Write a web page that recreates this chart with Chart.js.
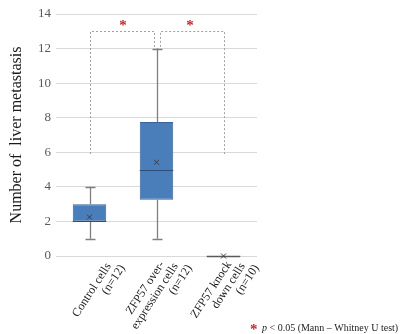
<!DOCTYPE html>
<html>
<head>
<meta charset="utf-8">
<script src="https://cdn.jsdelivr.net/npm/chart.js@4.4.1/dist/chart.umd.min.js"></script>
<style>
  html, body { margin: 0; padding: 0; background: #ffffff; }
  #wrap { width: 400px; height: 334px; }
</style>
</head>
<body>
<div id="wrap"><canvas id="c" width="400" height="334"></canvas></div>
<script>
// Groups (multi-line axis labels)
const categories = [
  ['Control cells', '(n=12)'],
  ['ZFP57 over-', 'expression cells', '(n=12)'],
  ['ZFP57 knock', 'down cells', '(n=10)']
];
// Box-plot summary per group
const whiskerMin = [1, 1, 0];
const quartile1  = [2, 3.25, 0];
const medians    = [2, 5, 0];
const quartile3  = [3, 7.75, 0];
const whiskerMax = [4, 12, 0];
const means      = [2.25, 5.42, 0];
// Y axis ticks
const yTicks = [0, 2, 4, 6, 8, 10, 12, 14];
// Significance brackets: group pairs, leg bottoms and bracket top
const bracketFrom   = [0, 1];
const bracketTo     = [1, 2];
const bracketLowA   = [5.9, 12.1];
const bracketLowB   = [12.1, 5.9];
const bracketTop    = 13;
const starLevel     = 13.5;
const yTitle = 'Number of  liver metastasis';
const footnote = ' < 0.05 (Mann \u2013 Whitney U test)';

const SERIF = '"Liberation Serif", "DejaVu Serif", serif';

const boxPlugin = {
  id: 'boxDetails',
  beforeDatasetsDraw(chart) {
    const ctx = chart.ctx, x = chart.scales.x, y = chart.scales.y;
    ctx.save();
    ctx.strokeStyle = '#7f7f7f';
    ctx.lineWidth = 1.3;
    categories.forEach((_, i) => {
      if (whiskerMax[i] === whiskerMin[i]) return;
      const cx = Math.round(x.getPixelForValue(i)) + 0.5;
      ctx.beginPath();
      ctx.moveTo(cx, y.getPixelForValue(quartile3[i]));
      ctx.lineTo(cx, y.getPixelForValue(whiskerMax[i]));
      ctx.moveTo(cx, y.getPixelForValue(quartile1[i]));
      ctx.lineTo(cx, y.getPixelForValue(whiskerMin[i]));
      ctx.stroke();
      ctx.beginPath();
      [whiskerMax[i], whiskerMin[i]].forEach(v => {
        const py = Math.round(y.getPixelForValue(v)) + 0.5;
        ctx.moveTo(cx - 5, py);
        ctx.lineTo(cx + 5, py);
      });
      ctx.stroke();
    });
    ctx.restore();
  },
  afterDatasetsDraw(chart) {
    const ctx = chart.ctx, x = chart.scales.x, y = chart.scales.y;
    const bars = chart.getDatasetMeta(0).data;
    ctx.save();
    // medians
    categories.forEach((_, i) => {
      const b = bars[i];
      const py = Math.round(y.getPixelForValue(medians[i])) + 0.5;
      ctx.strokeStyle = quartile1[i] === quartile3[i] ? '#5a5a5a' : '#2e4f78';
      ctx.lineWidth = quartile1[i] === quartile3[i] ? 1.5 : 1.2;
      ctx.beginPath();
      ctx.moveTo(b.x - b.width / 2, py);
      ctx.lineTo(b.x + b.width / 2, py);
      ctx.stroke();
    });
    // mean markers
    ctx.strokeStyle = '#3b3b4a';
    ctx.lineWidth = 1;
    categories.forEach((_, i) => {
      const cx = x.getPixelForValue(i), py = y.getPixelForValue(means[i]);
      const s = 2.5;
      ctx.beginPath();
      ctx.moveTo(cx - s, py - s); ctx.lineTo(cx + s, py + s);
      ctx.moveTo(cx - s, py + s); ctx.lineTo(cx + s, py - s);
      ctx.stroke();
    });
    // significance brackets
    ctx.strokeStyle = '#a0a0a0';
    ctx.lineWidth = 1;
    ctx.setLineDash([2, 2]);
    const inset = 3;
    bracketFrom.forEach((a, k) => {
      const bIdx = bracketTo[k];
      let xa = Math.round(x.getPixelForValue(a)) + 0.5;
      let xb = Math.round(x.getPixelForValue(bIdx)) + 0.5;
      if (a === 1) xa += inset;
      if (bIdx === 1) xb -= inset;
      const yt = Math.round(y.getPixelForValue(bracketTop)) + 0.5;
      ctx.beginPath();
      ctx.moveTo(xa, y.getPixelForValue(bracketLowA[k]));
      ctx.lineTo(xa, yt);
      ctx.lineTo(xb, yt);
      ctx.lineTo(xb, y.getPixelForValue(bracketLowB[k]));
      ctx.stroke();
    });
    ctx.setLineDash([]);
    // stars
    ctx.fillStyle = '#c0282d';
    ctx.font = 'bold 15px ' + SERIF;
    ctx.textAlign = 'center';
    ctx.textBaseline = 'alphabetic';
    bracketFrom.forEach((a, k) => {
      const mx = (x.getPixelForValue(a) + x.getPixelForValue(bracketTo[k])) / 2;
      ctx.fillText('*', mx, y.getPixelForValue(starLevel) + 7);
    });
    ctx.restore();
  },
  afterDraw(chart) {
    const ctx = chart.ctx, x = chart.scales.x;
    ctx.save();
    // rotated category labels
    ctx.fillStyle = '#1a1a1a';
    ctx.font = '12px ' + SERIF;
    ctx.textAlign = 'right';
    ctx.textBaseline = 'middle';
    const ang = -57 * Math.PI / 180;
    const lh = 12.5;
    categories.forEach((lines, i) => {
      const ax = x.getPixelForValue(i) + 33;
      const ay = chart.chartArea.bottom + 10;
      ctx.save();
      ctx.translate(ax, ay);
      ctx.rotate(ang);
      const n = lines.length;
      lines.forEach((t, j) => {
        const k = n - 1 - j;
        ctx.fillText(t, -6 * k, -lh * k);
      });
      ctx.restore();
    });
    // footnote
    ctx.fillStyle = '#c0282d';
    ctx.font = 'bold 15px ' + SERIF;
    ctx.textAlign = 'left';
    ctx.textBaseline = 'alphabetic';
    ctx.fillText('*', 250, 334);
    ctx.fillStyle = '#222222';
    ctx.font = 'italic 10px ' + SERIF;
    ctx.fillText('p', 262, 331);
    const pw = ctx.measureText('p').width;
    ctx.font = '10px ' + SERIF;
    ctx.fillText(footnote, 262 + pw, 331);
    ctx.restore();
  }
};

new Chart(document.getElementById('c'), {
  type: 'bar',
  data: {
    labels: categories,
    datasets: [{
      data: categories.map((_, i) => [quartile1[i], quartile3[i]]),
      backgroundColor: '#4a7ebb',
      borderColor: '#3a6499',
      borderWidth: 1,
      borderSkipped: false,
      barPercentage: 0.5,
      categoryPercentage: 1
    }]
  },
  options: {
    responsive: false,
    animation: false,
    events: [],
    layout: { padding: { top: 14, right: 143, left: 0, bottom: 0 } },
    plugins: { legend: { display: false }, tooltip: { enabled: false } },
    scales: {
      x: {
        grid: { display: false, drawTicks: false },
        border: { display: false },
        ticks: { display: false },
        afterFit(s) { s.height = 78; }
      },
      y: {
        min: yTicks[0],
        max: yTicks[yTicks.length - 1],
        afterBuildTicks(s) { s.ticks = yTicks.map(v => ({ value: v })); },
        ticks: { color: '#595959', font: { family: SERIF, size: 13 }, padding: 5 },
        grid: { color: '#d9d9d9', drawTicks: false },
        border: { display: false },
        title: {
          display: true,
          text: yTitle,
          color: '#1a1a1a',
          font: { family: SERIF, size: 16 },
          padding: { top: 7, bottom: 0 }
        },
        afterFit(s) { s.width = 56; }
      }
    }
  },
  plugins: [boxPlugin]
});
</script>
</body>
</html>
